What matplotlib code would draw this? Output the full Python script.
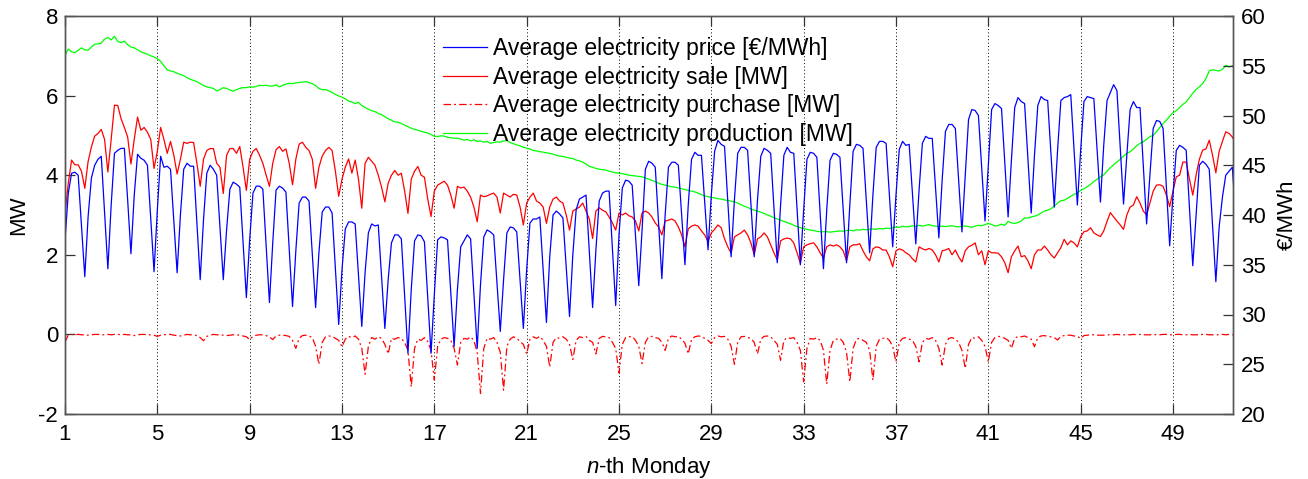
import numpy as np
import matplotlib
matplotlib.use("Agg")
import matplotlib.pyplot as plt

plt.rcParams['font.family'] = ['Liberation Sans', 'DejaVu Sans']
plt.rcParams['mathtext.fontset'] = 'custom'
plt.rcParams['mathtext.it'] = 'Liberation Sans:italic'
plt.rcParams['mathtext.rm'] = 'Liberation Sans'
plt.rcParams['axes.unicode_minus'] = False

# daily values, one row per week (Mon .. Sun), week 1 starts on the 1st Monday
price_weeks = [
    [37.5, 42.2, 44.2, 44.3, 44.0, 38.9, 33.8],
    [39.8, 43.7, 45.0, 45.6, 45.9, 40.2, 34.6],
    [41.0, 46.2, 46.5, 46.7, 46.7, 41.5, 36.1],
    [42.0, 46.1, 45.7, 45.5, 45.0, 39.6, 34.3],
    [40.5, 45.9, 44.8, 44.9, 44.6, 39.4, 34.2],
    [40.0, 44.6, 45.2, 44.9, 44.9, 39.2, 33.5],
    [39.5, 44.2, 45.0, 44.6, 44.0, 38.8, 33.5],
    [38.5, 42.6, 43.3, 43.1, 42.8, 37.3, 31.7],
    [37.5, 42.2, 42.9, 42.9, 42.6, 36.9, 31.2],
    [37.2, 42.5, 42.9, 42.7, 42.3, 36.6, 30.8],
    [36.4, 41.2, 41.8, 41.8, 41.4, 36.0, 30.7],
    [36.2, 40.3, 40.8, 40.8, 40.2, 34.6, 29.0],
    [34.5, 38.6, 39.3, 39.3, 39.1, 34.0, 28.8],
    [34.2, 38.2, 39.1, 38.9, 39.0, 33.8, 28.6],
    [33.5, 37.2, 38.0, 38.0, 37.6, 31.8, 26.1],
    [32.5, 37.4, 38.0, 37.9, 37.3, 31.7, 26.1],
    [32.0, 37.5, 37.8, 37.7, 37.5, 32.2, 26.8],
    [32.5, 36.8, 37.4, 38.0, 37.6, 32.1, 26.6],
    [33.0, 37.8, 38.5, 38.3, 38.0, 33.2, 28.3],
    [33.5, 38.2, 38.8, 38.7, 38.3, 33.5, 28.6],
    [34.5, 39.2, 39.6, 39.6, 39.8, 34.5, 29.2],
    [35.8, 40.0, 40.4, 40.1, 39.7, 34.8, 29.8],
    [36.0, 40.5, 41.6, 41.8, 42.0, 36.3, 30.7],
    [36.5, 41.4, 42.2, 42.4, 42.4, 36.6, 30.9],
    [38.0, 42.7, 43.5, 43.4, 43.0, 38.0, 32.9],
    [38.5, 44.6, 45.4, 45.2, 44.8, 39.2, 33.6],
    [40.0, 44.8, 45.3, 45.3, 45.0, 40.0, 35.0],
    [41.0, 45.6, 46.3, 46.0, 46.0, 41.2, 36.5],
    [42.0, 46.4, 47.5, 47.1, 46.9, 41.3, 35.8],
    [41.5, 46.2, 46.8, 46.8, 46.5, 41.1, 35.8],
    [41.5, 45.9, 46.7, 46.5, 46.2, 40.7, 35.2],
    [41.0, 46.0, 46.8, 46.3, 46.2, 40.6, 35.0],
    [40.5, 45.6, 46.3, 46.2, 45.8, 40.2, 34.6],
    [40.5, 45.5, 46.2, 46.1, 45.8, 40.5, 35.2],
    [41.0, 46.4, 47.1, 47.0, 46.7, 41.5, 36.2],
    [42.0, 46.8, 47.4, 47.4, 47.2, 42.0, 36.8],
    [42.0, 46.6, 47.4, 47.0, 47.1, 42.1, 37.1],
    [42.5, 47.2, 47.9, 47.7, 47.7, 42.7, 37.7],
    [43.5, 48.4, 49.1, 49.1, 48.7, 43.5, 38.3],
    [44.0, 49.6, 50.6, 50.5, 50.0, 44.7, 39.4],
    [45.0, 50.6, 51.2, 51.0, 50.7, 45.2, 39.8],
    [45.5, 50.8, 51.8, 51.4, 51.2, 45.7, 40.2],
    [46.0, 51.0, 51.9, 51.6, 51.5, 46.1, 40.8],
    [46.5, 51.5, 51.8, 51.9, 52.1, 46.5, 41.0],
    [46.5, 51.4, 51.9, 51.8, 51.7, 46.5, 41.3],
    [47.0, 51.5, 52.3, 53.1, 52.5, 46.8, 41.1],
    [46.0, 50.6, 51.4, 50.8, 50.8, 45.0, 39.1],
    [44.0, 48.7, 49.5, 49.4, 48.7, 42.8, 36.9],
    [42.0, 46.5, 47.0, 46.8, 46.5, 40.7, 34.9],
    [40.0, 45.0, 45.4, 45.1, 44.6, 39.0, 33.3],
    [38.8, 41.8, 44.0, 44.4, 44.8, 40.0],
]

sale_weeks = [
    [3.04, 3.80, 4.38, 4.26, 4.26, 4.10, 3.67],
    [4.34, 4.71, 4.98, 5.05, 5.15, 4.90, 4.08],
    [4.90, 5.76, 5.75, 5.42, 5.20, 4.96, 4.28],
    [4.90, 5.46, 5.13, 5.20, 5.08, 4.90, 4.17],
    [4.60, 5.20, 4.90, 4.55, 4.85, 4.50, 4.03],
    [4.40, 4.83, 4.80, 4.83, 4.82, 4.30, 3.72],
    [4.40, 4.62, 4.67, 4.67, 4.30, 4.20, 3.54],
    [4.50, 4.67, 4.67, 4.55, 4.72, 4.20, 3.62],
    [4.40, 4.60, 4.67, 4.50, 4.30, 4.00, 3.72],
    [4.30, 4.64, 4.72, 4.60, 4.66, 4.30, 3.76],
    [4.40, 4.78, 4.83, 4.70, 4.62, 4.40, 3.67],
    [4.20, 4.48, 4.62, 4.70, 4.62, 4.10, 3.47],
    [3.90, 4.20, 4.41, 4.05, 4.38, 3.90, 3.17],
    [4.30, 4.45, 4.35, 4.25, 4.00, 3.70, 3.33],
    [3.80, 4.00, 4.12, 4.00, 4.05, 3.60, 3.04],
    [3.90, 4.10, 4.22, 4.00, 3.95, 3.40, 2.96],
    [3.60, 3.75, 3.80, 3.85, 3.75, 3.50, 3.17],
    [3.72, 3.68, 3.70, 3.60, 3.45, 3.20, 2.83],
    [3.50, 3.46, 3.48, 3.52, 3.55, 3.45, 3.05],
    [3.55, 3.50, 3.45, 3.52, 3.50, 3.20, 2.75],
    [3.30, 3.45, 3.55, 3.35, 3.30, 3.20, 2.79],
    [3.20, 3.40, 3.45, 3.35, 3.30, 3.00, 2.62],
    [3.10, 3.15, 3.20, 3.30, 3.10, 2.90, 2.41],
    [3.10, 3.18, 3.12, 3.08, 2.95, 2.80, 2.62],
    [3.05, 3.00, 3.05, 2.98, 2.95, 2.85, 2.60],
    [3.05, 3.10, 3.05, 2.95, 2.80, 2.70, 2.50],
    [2.85, 2.87, 2.90, 2.85, 2.70, 2.50, 2.20],
    [2.65, 2.72, 2.75, 2.72, 2.60, 2.50, 2.33],
    [2.55, 2.64, 2.75, 2.68, 2.40, 2.20, 2.04],
    [2.45, 2.50, 2.55, 2.62, 2.50, 2.30, 2.00],
    [2.40, 2.45, 2.55, 2.45, 2.25, 2.05, 1.87],
    [2.35, 2.40, 2.42, 2.40, 2.30, 2.05, 1.79],
    [2.20, 2.25, 2.28, 2.30, 2.20, 2.05, 1.92],
    [2.20, 2.25, 2.22, 2.25, 2.20, 2.10, 1.85],
    [2.20, 2.25, 2.25, 2.28, 2.10, 1.95, 1.85],
    [2.15, 2.20, 2.18, 2.12, 2.12, 1.95, 1.70],
    [2.10, 2.15, 2.12, 2.05, 2.00, 1.90, 1.82],
    [2.20, 2.15, 2.12, 2.16, 2.12, 2.00, 1.82],
    [2.10, 2.12, 2.16, 2.00, 2.12, 1.95, 1.82],
    [2.10, 2.20, 2.24, 2.30, 2.00, 2.10, 1.75],
    [2.10, 2.05, 2.05, 2.04, 1.95, 1.80, 1.55],
    [1.95, 2.10, 2.22, 1.95, 1.98, 1.85, 1.65],
    [2.00, 2.12, 2.12, 2.22, 2.12, 2.00, 1.92],
    [2.05, 2.18, 2.39, 2.25, 2.35, 2.30, 2.20],
    [2.45, 2.58, 2.60, 2.68, 2.55, 2.50, 2.46],
    [2.60, 2.84, 3.06, 2.95, 2.85, 2.75, 2.64],
    [3.00, 3.20, 3.25, 3.46, 3.30, 3.10, 3.00],
    [3.30, 3.60, 3.75, 3.76, 3.72, 3.50, 3.21],
    [3.60, 3.96, 4.00, 4.33, 4.33, 3.90, 3.50],
    [4.00, 4.40, 4.63, 4.66, 4.88, 4.50, 4.06],
    [4.60, 4.85, 5.09, 5.05, 4.96, 4.80],
]

purchase_weeks = [
    [-0.19, -0.02, 0.00, -0.01, 0.00, -0.01, -0.01],
    [-0.02, -0.01, 0.00, 0.00, -0.01, -0.01, 0.00],
    [-0.01, 0.00, 0.00, -0.01, 0.00, -0.01, -0.01],
    [-0.03, -0.01, 0.00, 0.00, -0.01, -0.01, -0.02],
    [-0.05, -0.02, -0.01, 0.00, 0.00, -0.02, -0.03],
    [-0.04, -0.02, 0.00, -0.01, -0.01, -0.03, -0.08],
    [-0.16, -0.05, -0.02, 0.00, -0.01, -0.01, -0.02],
    [-0.03, -0.02, -0.01, -0.01, -0.02, -0.04, -0.06],
    [-0.13, -0.05, -0.02, -0.01, -0.01, -0.03, -0.06],
    [-0.13, -0.04, -0.02, -0.02, -0.03, -0.05, -0.15],
    [-0.35, -0.10, -0.03, -0.02, -0.04, -0.08, -0.30],
    [-0.75, -0.20, -0.06, -0.04, -0.05, -0.10, -0.15],
    [-0.31, -0.12, -0.05, -0.08, -0.04, -0.12, -0.35],
    [-1.00, -0.30, -0.08, -0.12, -0.06, -0.10, -0.25],
    [-0.49, -0.10, -0.12, -0.08, -0.10, -0.20, -0.40],
    [-1.32, -0.35, -0.12, -0.15, -0.08, -0.18, -0.40],
    [-1.15, -0.30, -0.12, -0.08, -0.10, -0.15, -0.35],
    [-0.77, -0.20, -0.10, -0.12, -0.06, -0.15, -0.45],
    [-1.48, -0.35, -0.10, -0.12, -0.08, -0.20, -0.45],
    [-1.40, -0.30, -0.12, -0.06, -0.10, -0.18, -0.25],
    [-0.49, -0.12, -0.06, -0.10, -0.05, -0.15, -0.30],
    [-0.82, -0.20, -0.08, -0.10, -0.06, -0.12, -0.25],
    [-0.63, -0.15, -0.06, -0.08, -0.05, -0.15, -0.20],
    [-0.49, -0.10, -0.05, -0.06, -0.08, -0.20, -0.35],
    [-0.97, -0.25, -0.08, -0.06, -0.05, -0.15, -0.30],
    [-0.73, -0.20, -0.06, -0.05, -0.08, -0.10, -0.20],
    [-0.40, -0.10, -0.04, -0.06, -0.05, -0.12, -0.22],
    [-0.49, -0.12, -0.06, -0.04, -0.05, -0.10, -0.15],
    [-0.23, -0.08, -0.04, -0.06, -0.05, -0.12, -0.30],
    [-0.75, -0.20, -0.06, -0.05, -0.08, -0.10, -0.20],
    [-0.49, -0.12, -0.05, -0.04, -0.06, -0.15, -0.25],
    [-0.65, -0.15, -0.08, -0.10, -0.08, -0.20, -0.40],
    [-1.19, -0.35, -0.10, -0.12, -0.08, -0.15, -0.40],
    [-1.25, -0.40, -0.15, -0.12, -0.10, -0.20, -0.45],
    [-1.19, -0.35, -0.12, -0.10, -0.15, -0.20, -0.40],
    [-1.15, -0.30, -0.12, -0.10, -0.08, -0.15, -0.30],
    [-0.69, -0.20, -0.10, -0.08, -0.12, -0.15, -0.30],
    [-0.69, -0.20, -0.10, -0.12, -0.08, -0.15, -0.35],
    [-0.77, -0.25, -0.10, -0.08, -0.12, -0.20, -0.40],
    [-0.85, -0.25, -0.08, -0.10, -0.06, -0.15, -0.30],
    [-0.69, -0.20, -0.08, -0.05, -0.06, -0.10, -0.15],
    [-0.35, -0.10, -0.05, -0.06, -0.04, -0.08, -0.12],
    [-0.31, -0.08, -0.04, -0.03, -0.05, -0.06, -0.08],
    [-0.14, -0.05, -0.03, -0.02, -0.02, -0.04, -0.05],
    [-0.10, -0.03, -0.02, -0.01, -0.01, -0.02, -0.02],
    [-0.02, -0.01, -0.01, -0.01, 0.00, -0.01, -0.01],
    [-0.01, -0.01, 0.00, -0.01, 0.00, -0.01, -0.01],
    [-0.01, 0.00, -0.01, -0.01, 0.00, 0.00, -0.01],
    [-0.01, 0.00, 0.00, -0.01, -0.01, 0.00, -0.01],
    [-0.01, -0.01, 0.00, 0.00, -0.01, -0.01, -0.01],
    [-0.01, 0.00, -0.01, 0.00, -0.01, -0.01],
]

production_weeks = [
    [7.01, 7.17, 7.10, 7.08, 7.14, 7.20, 7.15],
    [7.14, 7.22, 7.29, 7.30, 7.32, 7.42, 7.46],
    [7.40, 7.49, 7.36, 7.33, 7.37, 7.28, 7.22],
    [7.20, 7.15, 7.10, 7.07, 7.04, 7.00, 6.97],
    [6.93, 6.86, 6.75, 6.65, 6.62, 6.60, 6.56],
    [6.53, 6.50, 6.45, 6.41, 6.38, 6.35, 6.30],
    [6.25, 6.22, 6.20, 6.18, 6.12, 6.15, 6.20],
    [6.18, 6.14, 6.11, 6.15, 6.18, 6.20, 6.20],
    [6.22, 6.21, 6.23, 6.26, 6.25, 6.26, 6.24],
    [6.24, 6.27, 6.22, 6.26, 6.29, 6.31, 6.30],
    [6.32, 6.33, 6.34, 6.35, 6.33, 6.30, 6.25],
    [6.18, 6.15, 6.15, 6.12, 6.08, 6.03, 5.99],
    [5.96, 5.92, 5.86, 5.84, 5.80, 5.83, 5.75],
    [5.70, 5.66, 5.62, 5.60, 5.55, 5.52, 5.47],
    [5.42, 5.38, 5.34, 5.33, 5.30, 5.26, 5.22],
    [5.18, 5.15, 5.13, 5.10, 5.08, 5.06, 5.02],
    [4.98, 4.97, 4.99, 4.98, 4.95, 4.94, 4.93],
    [4.93, 4.91, 4.88, 4.90, 4.86, 4.89, 4.85],
    [4.86, 4.83, 4.85, 4.80, 4.82, 4.84, 4.83],
    [4.86, 4.87, 4.82, 4.79, 4.76, 4.74, 4.70],
    [4.68, 4.66, 4.62, 4.61, 4.59, 4.58, 4.56],
    [4.55, 4.53, 4.50, 4.48, 4.47, 4.45, 4.43],
    [4.42, 4.38, 4.36, 4.33, 4.28, 4.22, 4.20],
    [4.17, 4.15, 4.14, 4.13, 4.10, 4.08, 4.06],
    [4.05, 4.04, 4.02, 4.00, 3.99, 3.98, 3.97],
    [3.96, 3.93, 3.90, 3.87, 3.84, 3.80, 3.77],
    [3.75, 3.73, 3.71, 3.70, 3.68, 3.66, 3.64],
    [3.62, 3.60, 3.58, 3.55, 3.51, 3.48, 3.46],
    [3.44, 3.43, 3.41, 3.40, 3.38, 3.36, 3.35],
    [3.33, 3.30, 3.26, 3.22, 3.19, 3.15, 3.12],
    [3.10, 3.07, 3.04, 3.00, 2.97, 2.93, 2.90],
    [2.87, 2.84, 2.81, 2.78, 2.74, 2.71, 2.68],
    [2.66, 2.64, 2.62, 2.61, 2.59, 2.58, 2.58],
    [2.58, 2.57, 2.58, 2.59, 2.60, 2.59, 2.61],
    [2.62, 2.60, 2.63, 2.62, 2.64, 2.63, 2.64],
    [2.65, 2.64, 2.66, 2.65, 2.67, 2.66, 2.68],
    [2.70, 2.69, 2.72, 2.70, 2.71, 2.73, 2.71],
    [2.74, 2.72, 2.74, 2.76, 2.73, 2.72, 2.71],
    [2.72, 2.71, 2.72, 2.73, 2.71, 2.70, 2.72],
    [2.72, 2.71, 2.69, 2.72, 2.74, 2.73, 2.76],
    [2.79, 2.76, 2.72, 2.74, 2.77, 2.74, 2.84],
    [2.80, 2.79, 2.81, 2.85, 2.93, 2.92, 2.95],
    [2.97, 3.00, 3.05, 3.10, 3.12, 3.16, 3.22],
    [3.30, 3.36, 3.37, 3.42, 3.47, 3.52, 3.56],
    [3.62, 3.66, 3.71, 3.77, 3.84, 3.90, 3.96],
    [4.01, 4.10, 4.19, 4.26, 4.33, 4.40, 4.48],
    [4.55, 4.59, 4.66, 4.74, 4.80, 4.84, 4.90],
    [4.97, 5.00, 5.09, 5.20, 5.30, 5.38, 5.48],
    [5.57, 5.62, 5.70, 5.78, 5.84, 5.95, 6.06],
    [6.15, 6.22, 6.30, 6.43, 6.62, 6.65, 6.63],
    [6.62, 6.66, 6.76, 6.72, 6.75, 6.76],
]

price = np.concatenate(price_weeks)
sale = np.concatenate(sale_weeks)
purchase = np.concatenate(purchase_weeks)
production = np.concatenate(production_weeks)

# x axis: n-th Monday, one point per day
x = 1 + np.arange(len(price)) / 7.0

W, H = 1308, 479
fig = plt.figure(figsize=(W / 100, H / 100), dpi=100)
ax = fig.add_axes([65 / W, 1 - 414 / H, 1168 / W, 398 / H])
ax2 = ax.twinx()

l_sale, = ax.plot(x, sale, color='#ff0000', lw=0.9)
l_purch, = ax.plot(x, purchase, color='#ff0000', lw=0.9, ls=(0, (6, 2.5, 1.5, 2.5)))
l_prod, = ax.plot(x, production, color='#00ff00', lw=0.9)
l_price, = ax2.plot(x, price, color='#0000ff', lw=0.9)

ax.set_xlim(1, 51.6)
ax.set_ylim(-2, 8)
ax2.set_ylim(20, 60)
ax.set_xticks(range(1, 52, 4))
ax.set_yticks(range(-2, 9, 2))
ax2.set_yticks(range(20, 61, 5))

ax.xaxis.grid(True, color='black', ls=(0, (1, 2.5)), lw=0.7)
ax.set_axisbelow(True)

ax.tick_params(axis='x', direction='in', top=True, length=7, width=0.9,
               labelsize=16, pad=7, color='#333333')
ax.tick_params(axis='y', direction='in', length=7, width=0.9,
               labelsize=16, pad=5, color='#333333')
ax2.tick_params(axis='y', direction='in', length=7, width=0.9,
                labelsize=16, pad=6, color='#333333')
for a in (ax, ax2):
    for s in a.spines.values():
        s.set_color('#555555')
        s.set_linewidth(1.0)

ax2.legend([l_price, l_sale, l_purch, l_prod],
           ['Average electricity price [€/MWh]',
            'Average electricity sale [MW]',
            'Average electricity purchase [MW]',
            'Average electricity production [MW]'],
           loc='upper left', bbox_to_anchor=(443 / W, 1 - 37.5 / H),
           bbox_transform=fig.transFigure, frameon=False, fontsize=16.5,
           handlelength=1.92, handletextpad=0.25, labelspacing=0.235,
           borderpad=0, borderaxespad=0)

fig.text(19 / W, 1 - 215 / H, 'MW', rotation=90, ha='center', va='center', fontsize=16)
fig.text(1287 / W, 1 - 215 / H, '€/MWh', rotation=90, ha='center', va='center', fontsize=16)
fig.text(649 / W, 1 - 473 / H, '$n$-th Monday', ha='center', va='baseline', fontsize=16)

fig.savefig('out.png', dpi=100)
plt.close(fig)
